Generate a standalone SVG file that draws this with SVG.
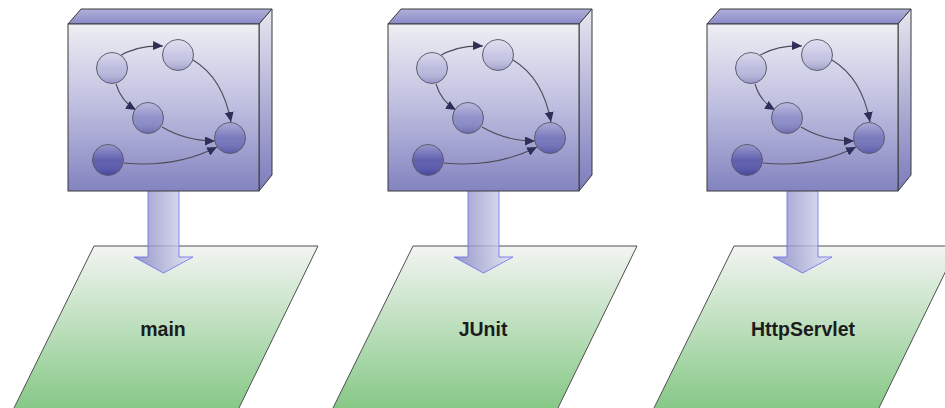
<svg xmlns="http://www.w3.org/2000/svg" width="945" height="408" viewBox="0 0 945 408">
  <defs>
    <linearGradient id="gFront" x1="0" y1="0" x2="0" y2="1">
      <stop offset="0" stop-color="#eeeef4"/>
      <stop offset="0.5" stop-color="#bdbddf"/>
      <stop offset="1" stop-color="#8383c0"/>
    </linearGradient>
    <linearGradient id="gTop" x1="0" y1="0" x2="0" y2="1">
      <stop offset="0" stop-color="#b0b0da"/>
      <stop offset="1" stop-color="#8a8ac8"/>
    </linearGradient>
    <linearGradient id="gSide" x1="0" y1="0" x2="0" y2="1">
      <stop offset="0" stop-color="#e6e6f0"/>
      <stop offset="1" stop-color="#7c7cbc"/>
    </linearGradient>
    <linearGradient id="gDot" gradientUnits="userSpaceOnUse" x1="0" y1="35" x2="0" y2="180">
      <stop offset="0" stop-color="#d8d8ec"/>
      <stop offset="0.5" stop-color="#9c9cd0"/>
      <stop offset="1" stop-color="#4a4aa4"/>
    </linearGradient>
    <linearGradient id="gShade" x1="0" y1="0" x2="0" y2="1">
      <stop offset="0" stop-color="#ffffff" stop-opacity="0.25"/>
      <stop offset="0.5" stop-color="#ffffff" stop-opacity="0"/>
      <stop offset="1" stop-color="#202070" stop-opacity="0.18"/>
    </linearGradient>
    <linearGradient id="gPlane" x1="0" y1="0" x2="0" y2="1">
      <stop offset="0" stop-color="#f2f4f2"/>
      <stop offset="0.55" stop-color="#b6dcb6"/>
      <stop offset="1" stop-color="#84c784"/>
    </linearGradient>
    <linearGradient id="gArrow" x1="0" y1="0" x2="1" y2="0">
      <stop offset="0" stop-color="#8080c2"/>
      <stop offset="1" stop-color="#e2e2f2"/>
    </linearGradient>
    <marker id="tip" markerUnits="userSpaceOnUse" markerWidth="11" markerHeight="9" refX="10" refY="4.5" orient="auto">
      <path d="M0,0 L10,4.5 L0,9 Z" fill="#2e2e58"/>
    </marker>
    <style>
      .front { fill: url(#gFront); stroke: #3a3a3a; stroke-width: 1; }
      .top { fill: url(#gTop); stroke: #3a3a3a; stroke-width: 1; stroke-linejoin: round; }
      .side { fill: url(#gSide); stroke: #3a3a3a; stroke-width: 1; stroke-linejoin: round; }
      .dot { fill: url(#gDot); stroke: #5c5c6c; stroke-width: 1; }
      .shade { fill: url(#gShade); stroke: none; }
      .link { fill: none; stroke: #4c4c58; stroke-width: 1.1; marker-end: url(#tip); }
      .plane { fill: url(#gPlane); stroke: #505050; stroke-width: 1; }
      .label { font-family: "Liberation Sans", Arial, sans-serif; font-weight: bold; font-size: 19.5px; fill: #1c1c1c; text-anchor: middle; }
      .flow { fill: url(#gArrow); fill-opacity: 0.8; stroke: #6a6af0; stroke-opacity: 0.8; stroke-width: 1; }
    </style>
    <!-- module cube with its small dependency graph -->
    <g id="cube">
      <polygon class="top" points="68,24 81,9 272,9 259,24"/>
      <polygon class="side" points="259,24 272,9 272,175 259,191"/>
      <rect class="front" x="68" y="24" width="191" height="167"/>
      <path class="link" d="M118,57 Q137,45 163,46"/>
      <path class="link" d="M193,60 Q223,78 231,122"/>
      <path class="link" d="M116,84 Q121,101 136,110"/>
      <path class="link" d="M162,127 Q186,141 215,141"/>
      <path class="link" d="M124,163 Q176,168 217,147"/>
      <!-- graph nodes: base colour darkens with height, plus a per-node shading layer -->
      <circle class="dot" cx="112" cy="68" r="15.5"/>
      <circle class="shade" cx="112" cy="68" r="15"/>
      <circle class="dot" cx="178" cy="55" r="15.5"/>
      <circle class="shade" cx="178" cy="55" r="15"/>
      <circle class="dot" cx="148" cy="118" r="15.5"/>
      <circle class="shade" cx="148" cy="118" r="15"/>
      <circle class="dot" cx="230" cy="138" r="15.5"/>
      <circle class="shade" cx="230" cy="138" r="15"/>
      <circle class="dot" cx="108" cy="160" r="15.5"/>
      <circle class="shade" cx="108" cy="160" r="15"/>
    </g>
  </defs>

  <!-- runtime planes -->
  <g id="plane-main">
    <polygon class="plane" points="94,246 318,246 237,412 12,412"/>
    <text class="label" x="163" y="336">main</text>
  </g>
  <g id="plane-junit">
    <polygon class="plane" transform="translate(319,0)" points="94,246 318,246 237,412 12,412"/>
    <text class="label" x="483" y="336">JUnit</text>
  </g>
  <g id="plane-servlet">
    <polygon class="plane" transform="translate(640,0)" points="94,246 318,246 237,412 12,412"/>
    <text class="label" x="803" y="336">HttpServlet</text>
  </g>

  <!-- deployment arrows from each cube down to its plane -->
  <g id="connectors">
    <path class="flow" d="M148,188 L179,188 L179,257 L193,257 L163.5,273 L134,257 L148,257 Z"/>
    <path class="flow" transform="translate(320,0)" d="M148,188 L179,188 L179,257 L193,257 L163.5,273 L134,257 L148,257 Z"/>
    <path class="flow" transform="translate(639,0)" d="M148,188 L179,188 L179,257 L193,257 L163.5,273 L134,257 L148,257 Z"/>
  </g>

  <!-- cubes -->
  <g id="cube-main"><use href="#cube"/></g>
  <g id="cube-junit"><use href="#cube" transform="translate(320,0)"/></g>
  <g id="cube-servlet"><use href="#cube" transform="translate(639,0)"/></g>
</svg>
